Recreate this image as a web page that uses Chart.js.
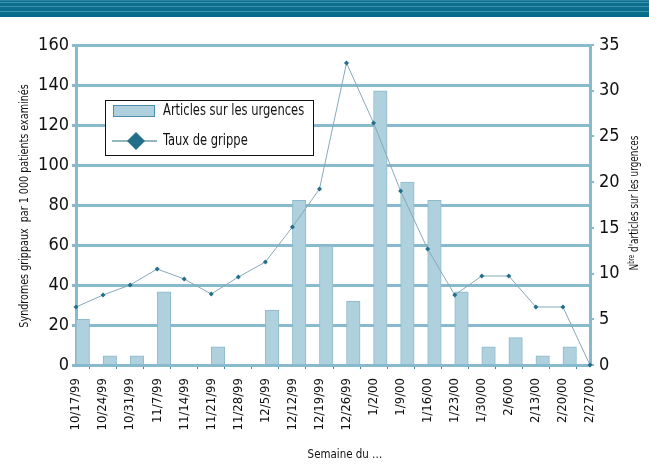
<!DOCTYPE html>
<html>
<head>
<meta charset="utf-8">
<script src="https://cdn.jsdelivr.net/npm/chart.js@4.4.1/dist/chart.umd.min.js"></script>
<style>
  body { margin: 0; background: #fff; }
  #wrap { position: relative; width: 649px; height: 472px; }
  #banner {
    position: absolute; left: 0; top: 0; width: 649px; height: 17px;
    background: linear-gradient(to bottom,
      #2a85a2 0, #2a85a2 1px, #0d6f8e 1px, #0d6f8e 2px,
      #3b93ae 2px, #3b93ae 3px, #0d6f8e 3px, #0d6f8e 6px,
      #3b93ae 6px, #3b93ae 7px, #0d6f8e 7px, #0d6f8e 11px,
      #3b93ae 11px, #3b93ae 12px, #0d6f8e 12px, #036a89 17px);
  }
</style>
</head>
<body>
<div id="wrap">
  <canvas id="fluChart"></canvas>
  <div id="banner"></div>
</div>
<script>
const weeks = ["10/17/99", "10/24/99", "10/31/99", "11/7/99", "11/14/99", "11/21/99", "11/28/99",
  "12/5/99", "12/12/99", "12/19/99", "12/26/99", "1/2/00", "1/9/00", "1/16/00", "1/23/00",
  "1/30/00", "2/6/00", "2/13/00", "2/20/00", "2/27/00"];
// number of articles about the emergency rooms (right axis)
const articles = [5, 1, 1, 8, 0, 2, 0, 6, 18, 13, 7, 30, 20, 18, 8, 2, 3, 1, 2, 0];
// flu-like syndromes per 1 000 patients (left axis)
const tauxGrippe = [29, 35, 40, 48, 43, 35.5, 44, 51.5, 69, 88, 151, 121, 87, 58, 35, 44.5, 44.5, 29, 29, 0];

const leftTicks = { min: 0, max: 160, step: 20 };
const rightTicks = { min: 0, max: 35, step: 5 };

const FONT = "'DejaVu Sans Condensed', 'Liberation Sans', sans-serif";
const gridBlue = "#88bacd";
const barFill = "#afd0dd";
const barEdge = "#8dbacb";
const lineGrey = "#86a9b8";
const markTeal = "#236f8a";

// text squeezed horizontally, to get a narrow face out of the installed fonts
function narrowText(ctx, text, x, y, squeeze, angle) {
  ctx.save();
  ctx.translate(x, y);
  if (angle) ctx.rotate(angle);
  ctx.scale(squeeze, 1);
  ctx.fillText(text, 0, 0);
  ctx.restore();
}

// legend box + axis titles, drawn on top of the plot
const overlay = {
  id: "overlay",
  afterDraw(chart) {
    const ctx = chart.ctx;
    const area = chart.chartArea;
    ctx.save();

    // legend
    const lx = area.left + 29, ly = area.top + 55, lw = 208, lh = 55;
    ctx.fillStyle = "#fff";
    ctx.fillRect(lx, ly, lw, lh);
    ctx.strokeStyle = "#111";
    ctx.lineWidth = 1;
    ctx.strokeRect(lx + 0.5, ly + 0.5, lw, lh);

    ctx.fillStyle = barFill;
    ctx.fillRect(lx + 8, ly + 5, 42, 12);
    ctx.strokeStyle = "#4d8fa8";
    ctx.strokeRect(lx + 8.5, ly + 5.5, 41, 11);

    ctx.strokeStyle = markTeal;
    ctx.beginPath();
    ctx.moveTo(lx + 7, ly + 41);
    ctx.lineTo(lx + 52, ly + 41);
    ctx.stroke();
    ctx.fillStyle = markTeal;
    ctx.beginPath();
    ctx.moveTo(lx + 31, ly + 32);
    ctx.lineTo(lx + 40, ly + 41);
    ctx.lineTo(lx + 31, ly + 50);
    ctx.lineTo(lx + 22, ly + 41);
    ctx.closePath();
    ctx.fill();

    ctx.fillStyle = "#111";
    ctx.font = "16px " + FONT;
    ctx.textBaseline = "middle";
    ctx.textAlign = "left";
    narrowText(ctx, "Articles sur les urgences", lx + 58, ly + 11, 0.8);
    narrowText(ctx, "Taux de grippe", lx + 58, ly + 41, 0.8);

    // axis titles
    ctx.font = "13px " + FONT;
    ctx.textAlign = "center";
    const midY = (area.top + area.bottom) / 2;
    narrowText(ctx, "Syndromes grippaux  par 1 000 patients examinés", 25, midY + 1, 0.82, -Math.PI / 2);

    // right title with superscript "bre"
    ctx.save();
    ctx.translate(635, midY - 2);
    ctx.rotate(-Math.PI / 2);
    ctx.scale(0.76, 1);
    const partA = "N", partB = "bre", partC = " d'articles sur les urgences";
    ctx.font = "13px " + FONT;
    const wA = ctx.measureText(partA).width;
    const wC = ctx.measureText(partC).width;
    ctx.font = "8px " + FONT;
    const wB = ctx.measureText(partB).width;
    let x = -(wA + wB + wC) / 2;
    ctx.textAlign = "left";
    ctx.font = "13px " + FONT;
    ctx.fillText(partA, x, 0);
    x += wA;
    ctx.font = "8px " + FONT;
    ctx.fillText(partB, x, -3);
    x += wB;
    ctx.font = "13px " + FONT;
    ctx.fillText(partC, x, 0);
    ctx.restore();

    ctx.textAlign = "center";
    narrowText(ctx, "Semaine du \u2026", 345, 455, 0.88);
    ctx.restore();
  }
};

new Chart(document.getElementById("fluChart"), {
  data: {
    labels: weeks,
    datasets: [
      {
        // empty slot so each bar sits right of its week tick
        type: "bar",
        data: weeks.map(() => null),
        yAxisID: "y1",
        barPercentage: 1,
        categoryPercentage: 1,
        order: 2
      },
      {
        type: "bar",
        label: "Articles sur les urgences",
        data: articles,
        yAxisID: "y1",
        backgroundColor: barFill,
        borderColor: barEdge,
        borderWidth: 1,
        barPercentage: 1,
        categoryPercentage: 1,
        order: 3
      },
      {
        type: "line",
        label: "Taux de grippe",
        data: tauxGrippe,
        yAxisID: "y",
        borderColor: lineGrey,
        borderWidth: 1,
        tension: 0,
        pointStyle: "rectRot",
        pointRadius: 2.5,
        pointBackgroundColor: markTeal,
        pointBorderColor: markTeal,
        pointBorderWidth: 0,
        clip: false,
        order: 1
      }
    ]
  },
  plugins: [overlay],
  options: {
    responsive: true,
    maintainAspectRatio: false,
    animation: false,
    layout: { padding: { top: 45, left: 0, right: 0, bottom: 0 } },
    plugins: {
      legend: { display: false },
      tooltip: { enabled: false }
    },
    scales: {
      x: {
        offset: false,
        afterFit: s => { s.height = 107; },
        grid: { drawOnChartArea: false, drawTicks: true, tickLength: 4, color: "#3f7f98", lineWidth: 1 },
        border: { color: gridBlue, width: 3 },
        ticks: {
          autoSkip: false,
          minRotation: 90,
          maxRotation: 90,
          padding: 9,
          color: "#111",
          font: { family: FONT, size: 13 }
        }
      },
      y: {
        position: "left",
        min: leftTicks.min,
        max: leftTicks.max,
        afterFit: s => { s.width = 76; },
        grid: { color: gridBlue, lineWidth: 3, tickLength: 4 },
        border: { color: gridBlue, width: 3 },
        ticks: {
          stepSize: leftTicks.step,
          padding: 3,
          color: "#111",
          font: { family: FONT, size: 18 }
        }
      },
      y1: {
        position: "right",
        min: rightTicks.min,
        max: rightTicks.max,
        afterFit: s => { s.width = 59; },
        grid: { drawOnChartArea: false, color: gridBlue, lineWidth: 2, tickLength: 4 },
        border: { color: gridBlue, width: 3 },
        ticks: {
          stepSize: rightTicks.step,
          padding: 5,
          color: "#111",
          font: { family: FONT, size: 18 }
        }
      }
    }
  }
});
</script>
</body>
</html>
